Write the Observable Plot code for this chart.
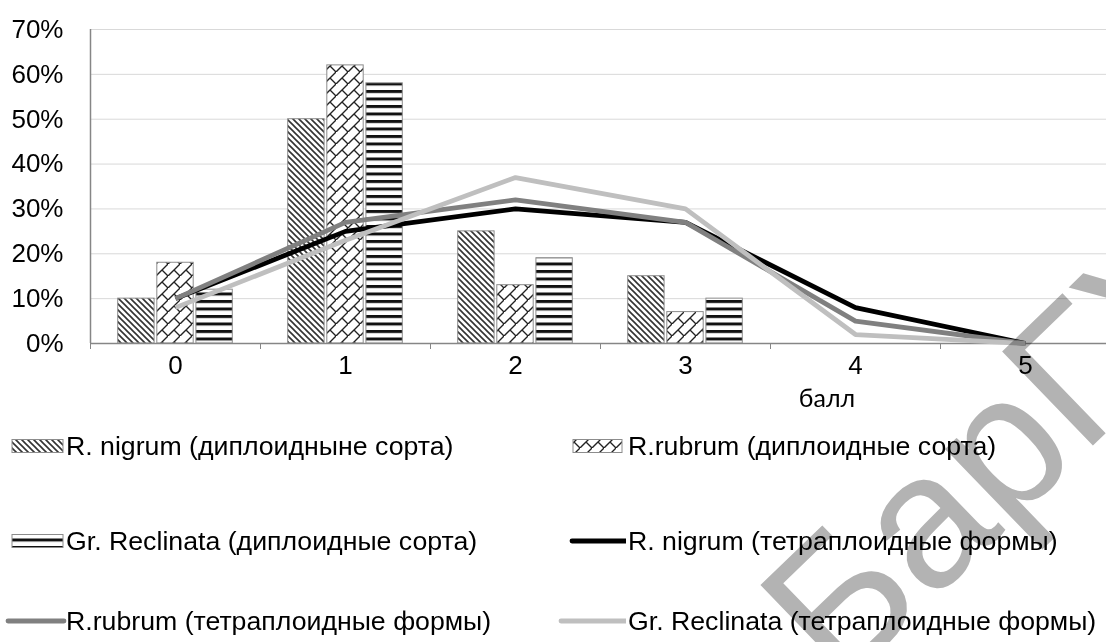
<!DOCTYPE html>
<html><head><meta charset="utf-8">
<script src="https://cdn.jsdelivr.net/npm/d3@7"></script>
<script src="https://cdn.jsdelivr.net/npm/@observablehq/plot@0.6"></script>
<style>
body{margin:0;background:#fff;font-family:"Liberation Sans",Arial,sans-serif;}
#wrap{position:relative;width:1106px;height:642px;overflow:hidden;background:#fff;}
#chart{position:absolute;left:0;top:0;}
.leg{position:absolute;font-size:26.7px;color:#000;white-space:nowrap;line-height:1;}
.legtxt{position:absolute;transform:translateY(-50%);}
.xtitle{position:absolute;font-family:Lato,"Open Sans",sans-serif;font-size:25px;transform:translate(-50%,-50%);white-space:nowrap;}
#wm{position:absolute;left:0;top:0;pointer-events:none;mix-blend-mode:multiply;}
</style></head><body>
<svg width="0" height="0" style="position:absolute">
  <defs>
    <pattern id="pDiag" patternUnits="userSpaceOnUse" width="6" height="6">
      <rect width="6" height="6" fill="#fff"/>
      <path d="M-1,-1 L7,7 M-4,2 L1,7 M5,-1 L10,4" stroke="#333" stroke-width="1.6"/>
    </pattern>
    <pattern id="pBrick" patternUnits="userSpaceOnUse" width="12" height="12">
      <rect width="12" height="12" fill="#fff"/>
      <path d="M-1,13 L13,-1 M6,6 L12,12" stroke="#222" stroke-width="1.4" fill="none"/>
    </pattern>
    <pattern id="pHoriz" patternUnits="userSpaceOnUse" width="8" height="7.5">
      <rect width="8" height="7.5" fill="#fff"/>
      <rect y="0" width="8" height="3" fill="#111"/>
    </pattern>
  </defs>
</svg>
<div id="wrap"><div id="chart"></div></div>
<script>
const categories = [0, 1, 2, 3, 4, 5];
const yTicks = [0, 10, 20, 30, 40, 50, 60, 70];
const xTitle = "балл";

const barSeries = ["R. nigrum (диплоидныне сорта)", "R.rubrum (диплоидные сорта)", "Gr. Reclinata (диплоидные сорта)"];
const nigrumDiploid = [10, 50, 25, 15, null, null];
const rubrumDiploid = [18, 62, 13, 7, null, null];
const reclinataDiploid = [12, 58, 19, 10, null, null];

const lineSeries = ["R. nigrum (тетраплоидные формы)", "R.rubrum (тетраплоидные формы)", "Gr. Reclinata (тетраплоидные формы)"];
const nigrumTetra = [10, 25, 30, 27, 8, 0];
const rubrumTetra = [10, 27, 32, 27, 5, 0];
const reclinataTetra = [8, 23, 37, 30, 2, 0];

const barFills = ["url(#pDiag)", "url(#pBrick)", "url(#pHoriz)"];
const lineColors = ["#000000", "#808080", "#bfbfbf"];
const barOffsets = [-0.23, 0, 0.23];
const halfW = 0.107;

const barValues = [nigrumDiploid, rubrumDiploid, reclinataDiploid];
const lineValues = [nigrumTetra, rubrumTetra, reclinataTetra];

const barData = barValues.map((vals, s) =>
  categories.map((c, i) => ({series: barSeries[s], cat: c, value: vals[i], off: barOffsets[s]}))
    .filter(d => d.value != null));
const lineData = lineValues.map((vals, s) =>
  categories.map((c, i) => ({series: lineSeries[s], cat: c, value: vals[i]})));
const boundaries = categories.map(c => c - 0.5).concat([categories[categories.length - 1] + 0.5]);

const chart = Plot.plot({
  width: 1106,
  height: 410,
  marginLeft: 90,
  marginRight: 0,
  marginTop: 29,
  marginBottom: 67,
  style: {fontFamily: "'Liberation Sans', Arial, sans-serif", fontSize: "26px", color: "#000", background: "transparent", overflow: "visible"},
  x: {type: "linear", domain: [-0.5, 5.5], range: [90, 1110]},
  y: {domain: [0, 70]},
  marks: [
    Plot.ruleY(yTicks.filter(d => d > 0), {stroke: "#d9d9d9", strokeWidth: 1}),
    ...barData.map((bd, s) => Plot.rectY(bd, {
      x1: d => d.cat + d.off - halfW, x2: d => d.cat + d.off + halfW,
      y1: 0, y2: "value", fill: barFills[s], stroke: "#8c8c8c", strokeWidth: 1
    })),
    Plot.ruleX([-0.5], {stroke: "#868686", strokeWidth: 1.5}),
    Plot.ruleY([0], {stroke: "#868686", strokeWidth: 1.5}),
    ...lineData.map((ld, s) => Plot.line(ld, {
      x: "cat", y: "value", stroke: lineColors[s], strokeWidth: 4.8,
      strokeLinejoin: "round", strokeLinecap: "butt"
    })),
    Plot.axisY(yTicks, {tickSize: 0, tickPadding: 27, tickFormat: d => d + "%", fontSize: 26, label: null}),
    Plot.axisX(categories, {tickSize: 0, tickPadding: 12, fontSize: 26, label: null, tickFormat: d => String(d)}),
    Plot.axisX(boundaries, {tickSize: 6, tickFormat: () => "", stroke: "#868686", label: null})
  ]
});
document.getElementById("chart").appendChild(chart);

const wrap = document.getElementById("wrap");
const xt = document.createElement("div");
xt.className = "xtitle"; xt.textContent = xTitle;
xt.style.left = "827px"; xt.style.top = "397px";
wrap.appendChild(xt);

// legend
const legendItems = [
  {label: barSeries[0], kind: "bar", fill: barFills[0], col: 0, row: 0},
  {label: barSeries[1], kind: "bar", fill: barFills[1], col: 1, row: 0},
  {label: barSeries[2], kind: "bar", fill: barFills[2], col: 0, row: 1},
  {label: lineSeries[0], kind: "line", color: lineColors[0], col: 1, row: 1},
  {label: lineSeries[1], kind: "line", color: lineColors[1], col: 0, row: 2},
  {label: lineSeries[2], kind: "line", color: lineColors[2], col: 1, row: 2}
];
const rowY = [446, 541, 621];
const colText = [66, 628];
const ns = "http://www.w3.org/2000/svg";
legendItems.forEach(it => {
  const y = rowY[it.row];
  const sw = document.createElementNS(ns, "svg");
  sw.setAttribute("width", 70); sw.setAttribute("height", 20);
  sw.style.position = "absolute";
  const x0 = it.col === 0 ? 0 : 556;
  sw.style.left = x0 + "px"; sw.style.top = (y - 10) + "px";
  if (it.kind === "bar") {
    const r = document.createElementNS(ns, "rect");
    const rx = it.col === 0 ? 12 : 17;
    r.setAttribute("x", rx); r.setAttribute("y", 3.5);
    r.setAttribute("width", it.col === 0 ? 51 : 49); r.setAttribute("height", 13);
    r.setAttribute("fill", it.fill); r.setAttribute("stroke", "#8c8c8c"); r.setAttribute("stroke-width", 1);
    sw.appendChild(r);
  } else {
    const l = document.createElementNS(ns, "line");
    const lx1 = it.col === 0 ? 8 : (it.row === 1 ? 16 : 5);
    const lx2 = it.col === 0 ? 64 : 71;
    l.setAttribute("x1", lx1); l.setAttribute("x2", lx2);
    l.setAttribute("y1", 10); l.setAttribute("y2", 10);
    l.setAttribute("stroke", it.color); l.setAttribute("stroke-width", 4.8);
    l.setAttribute("stroke-linecap", "round");
    sw.appendChild(l);
  }
  wrap.appendChild(sw);
  const t = document.createElement("div");
  t.className = "leg legtxt";
  t.textContent = it.label;
  t.style.left = colText[it.col] + "px"; t.style.top = y + "px";
  wrap.appendChild(t);
});

// watermark overlay
const wm = document.createElementNS(ns, "svg");
wm.setAttribute("id", "wm"); wm.setAttribute("width", 1106); wm.setAttribute("height", 642);
const wt = document.createElementNS(ns, "text");
wt.setAttribute("x", 840); wt.setAttribute("y", 690);
wt.setAttribute("transform", "rotate(-44 840 690)");
wt.setAttribute("font-size", 190);
wt.setAttribute("font-family", "'Liberation Sans', Arial, sans-serif");
wt.setAttribute("fill", "#b3b3b3");
wt.textContent = "БарГУ";
wm.appendChild(wt);
wrap.appendChild(wm);
</script>
</body></html>
